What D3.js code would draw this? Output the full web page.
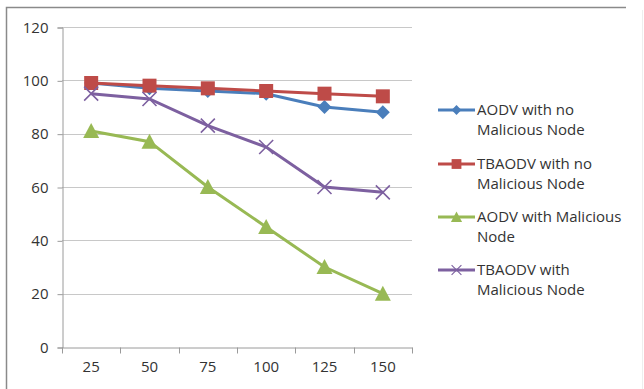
<!DOCTYPE html>
<html>
<head>
<meta charset="utf-8">
<script src="https://cdn.jsdelivr.net/npm/d3@7"></script>
<style>
  body { margin: 0; background: #fff; }
  svg { display: block; }
  text { font-family: "Open Sans", "Noto Sans", sans-serif; fill: #333; }
</style>
</head>
<body>
<div id="root"></div>
<script>
// node counts on x axis
var categories = ["25", "50", "75", "100", "125", "150"];
var yTicks = [0, 20, 40, 60, 80, 100, 120];

var aodvNoMal   = [99, 97, 96, 95, 90, 88];
var tbaodvNoMal = [99, 98, 97, 96, 95, 94];
var aodvMal     = [81, 77, 60, 45, 30, 20];
var tbaodvMal   = [95, 93, 83, 75, 60, 58];

var seriesNames = [
  ["AODV with no", "Malicious Node"],
  ["TBAODV with no", "Malicious Node"],
  ["AODV with Malicious", "Node"],
  ["TBAODV with", "Malicious Node"]
];
var seriesColors = ["#4a7ebb", "#be4b48", "#98b954", "#7d60a0"];
var seriesMarkers = ["diamond", "square", "triangle", "cross"];

var series = [aodvNoMal, tbaodvNoMal, aodvMal, tbaodvMal].map(function(v, i) {
  return { name: seriesNames[i], values: v, color: seriesColors[i], marker: seriesMarkers[i] };
});

var W = 644, H = 389;
var svg = d3.select("#root").append("svg").attr("width", W).attr("height", H);

// chart frame
svg.append("path")
  .attr("d", "M6.5,389 V7.5 H626")
  .attr("fill", "none")
  .attr("stroke", "#8a8a8a")
  .attr("stroke-width", 1.5);
svg.append("line")
  .attr("x1", 642.5).attr("x2", 642.5).attr("y1", 10).attr("y2", 389)
  .attr("stroke", "#eee");

var plotLeft = 62, plotRight = 412, plotTop = 27, plotBottom = 347;

var x = d3.scaleBand().domain(categories).range([plotLeft, plotRight]);
var y = d3.scaleLinear().domain([0, 120]).range([plotBottom, plotTop]);

// gridlines
svg.append("g").selectAll("line").data(yTicks.filter(function(d) { return d > 0; }))
  .join("line")
  .attr("x1", plotLeft).attr("x2", plotRight)
  .attr("y1", function(d) { return Math.round(y(d)) + 0.5; })
  .attr("y2", function(d) { return Math.round(y(d)) + 0.5; })
  .attr("stroke", "#c8c8c8");

// y axis
var yAxis = svg.append("g")
  .attr("transform", "translate(" + (plotLeft + 0.5) + ",0.5)")
  .call(d3.axisLeft(y).tickValues(yTicks).tickSize(5).tickPadding(9));
yAxis.select(".domain").attr("stroke", "#9a9a9a");
yAxis.selectAll(".tick line").attr("stroke", "#9a9a9a");
yAxis.selectAll("text").attr("font-size", 15).attr("fill", "#333");

// x axis with ticks at band edges
var xAxis = svg.append("g")
  .attr("transform", "translate(0," + (plotBottom + 0.5) + ")")
  .call(d3.axisBottom(x).tickSize(0).tickPadding(14));
xAxis.select(".domain").attr("stroke", "#9a9a9a");
xAxis.selectAll("text").attr("font-size", 15).attr("fill", "#333");
var edges = categories.map(function(c) { return x(c); }).concat([plotRight]);
xAxis.selectAll(".edge").data(edges).join("line")
  .attr("x1", function(d) { return Math.round(d) + 0.5; })
  .attr("x2", function(d) { return Math.round(d) + 0.5; })
  .attr("y1", 0).attr("y2", 6)
  .attr("stroke", "#9a9a9a");

var line = d3.line()
  .x(function(d, i) { return x(categories[i]) + x.bandwidth() / 2; })
  .y(function(d) { return y(d); });

function drawMarker(g, kind, color) {
  if (kind === "diamond") {
    g.append("path").attr("d", "M0,-7 L7,0 L0,7 L-7,0 Z").attr("fill", color);
  } else if (kind === "square") {
    g.append("rect").attr("x", -7).attr("y", -7).attr("width", 14).attr("height", 14).attr("fill", color);
  } else if (kind === "triangle") {
    g.append("path").attr("d", "M0,-8 L8,7 L-8,7 Z").attr("fill", color);
  } else {
    g.append("path").attr("d", "M-7,-7 L7,7 M7,-7 L-7,7")
      .attr("stroke", color).attr("stroke-width", 1.6).attr("fill", "none");
  }
}

var drawOrder = [0, 1, 3, 2];
drawOrder.forEach(function(si) {
  var s = series[si];
  svg.append("path")
    .attr("d", line(s.values))
    .attr("fill", "none")
    .attr("stroke", s.color)
    .attr("stroke-width", 3);
  s.values.forEach(function(v, i) {
    var g = svg.append("g")
      .attr("transform", "translate(" + (x(categories[i]) + x.bandwidth() / 2) + "," + y(v) + ")");
    drawMarker(g, s.marker, s.color);
  });
});

// legend
var legendY = [110, 164, 217, 270];
series.forEach(function(s, i) {
  var g = svg.append("g").attr("transform", "translate(438," + legendY[i] + ")");
  g.append("line").attr("x1", 0).attr("x2", 37).attr("y1", 0).attr("y2", 0)
    .attr("stroke", s.color).attr("stroke-width", 3);
  var m = g.append("g").attr("transform", "translate(18.5,0) scale(0.7)");
  drawMarker(m, s.marker, s.color);
  var t = g.append("text").attr("x", 39).attr("y", 5).attr("font-size", 15);
  s.name.forEach(function(l, k) {
    t.append("tspan").attr("x", 39).attr("dy", k === 0 ? 0 : 20).text(l);
  });
});
</script>
</body>
</html>
